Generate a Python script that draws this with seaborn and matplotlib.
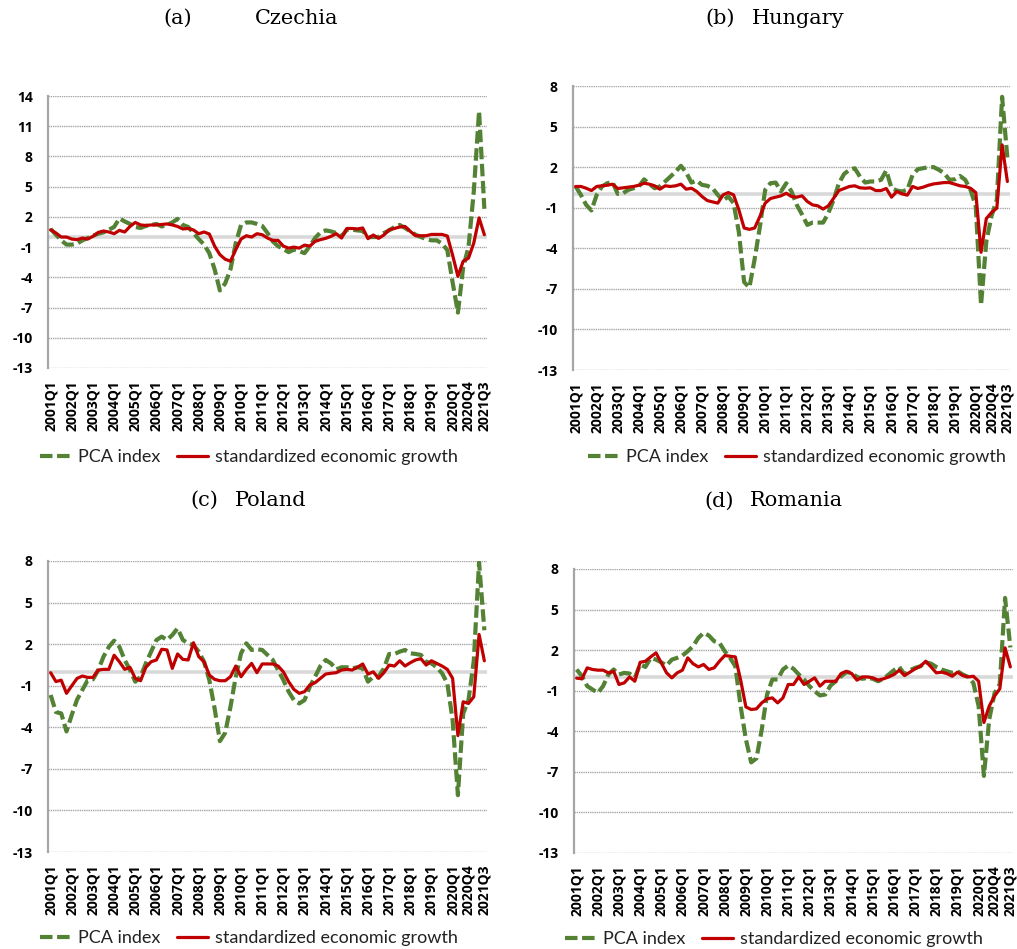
import numpy as np
import pandas as pd
import matplotlib
matplotlib.use("Agg")
import matplotlib.pyplot as plt
import seaborn as sns

# Quarterly categories 2001Q1 .. 2021Q3
quarters = [f"{y}Q{q}" for y in range(2001, 2022) for q in range(1, 5)][:83]
tick_labels = [f"{y}Q1" for y in range(2001, 2021)] + ["2020Q4", "2021Q3"]

cz_pca = [0.8, 0.23, -0.33, -0.75, -0.75, -0.65, -0.33, -0.1, 0.13, 0.33,
          0.46, 0.72, 1.0, 1.85, 1.55, 1.3, 1.0, 0.9, 1.1, 1.2,
          1.3, 1.05, 1.2, 1.45, 1.8, 1.2, 1.0, 0.4, -0.2, -0.75,
          -1.6, -3.2, -5.3, -4.6, -3.2, -0.6, 1.2, 1.45, 1.45, 1.3,
          1.1, 0.4, -0.43, -0.9, -1.2, -1.5, -1.25, -1.4, -1.6, -0.9,
          -0.1, 0.46, 0.66, 0.56, 0.4, 0.07, 0.72, 0.72, 0.66, 0.6,
          0.0, 0.0, 0.0, 0.4, 0.66, 1.0, 1.2, 0.9, 0.56, 0.23,
          0.0, -0.2, -0.33, -0.33, -0.65, -1.3, -4.5, -7.5, -3.0, -1.0,
          4.5, 12.5, 2.8]
cz_gdp = [0.72, 0.4, 0.0, 0.0, -0.2, -0.26, -0.1, -0.2, 0.07, 0.46,
          0.6, 0.5, 0.33, 0.66, 0.5, 1.05, 1.45, 1.2, 1.15, 1.2,
          1.2, 1.25, 1.3, 1.2, 1.05, 0.8, 0.85, 0.7, 0.33, 0.5,
          0.3, -0.9, -1.75, -2.2, -2.4, -1.25, -0.2, 0.13, 0.0, 0.33,
          0.23, -0.1, -0.33, -0.33, -0.9, -1.1, -1.0, -1.1, -0.8, -0.9,
          -0.43, -0.26, -0.13, 0.07, 0.33, -0.1, 0.85, 0.85, 0.8, 0.9,
          -0.16, 0.2, -0.13, 0.2, 0.72, 0.85, 1.0, 1.05, 0.56, 0.13,
          0.13, 0.13, 0.26, 0.26, 0.26, 0.1, -1.8, -3.9, -2.4, -2.1,
          -0.6, 1.9, 0.23]

hu_pca = [0.57, -0.05, -0.79, -1.2, -0.05, 0.57, 0.81, 0.9, 0.02, 0.07,
          0.32, 0.44, 0.57, 1.1, 0.76, 0.44, 0.57, 0.94, 1.3, 1.67,
          2.1, 1.6, 0.86, 1.0, 0.69, 0.62, 0.44, -0.05, -0.47, -0.17,
          -0.66, -2.8, -6.5, -6.9, -4.8, -2.4, 0.32, 0.81, 0.86, 0.2,
          0.81, 0.2, -0.79, -1.5, -2.27, -2.1, -2.1, -2.1, -1.4, -0.42,
          0.81, 1.5, 1.8, 1.92, 1.3, 0.86, 0.94, 0.94, 1.06, 1.75,
          0.44, 0.27, 0.2, 0.32, 1.43, 1.85, 1.92, 2.0, 2.0, 1.8,
          1.55, 1.06, 1.1, 1.35, 1.06, 0.32, -0.9, -8.2, -3.5, -1.6,
          -0.4, 7.2, 2.7]
hu_gdp = [0.57, 0.57, 0.44, 0.27, 0.57, 0.62, 0.66, 0.74, 0.42, 0.47,
          0.52, 0.57, 0.66, 0.81, 0.74, 0.62, 0.37, 0.62, 0.57, 0.62,
          0.74, 0.37, 0.44, 0.2, -0.17, -0.47, -0.57, -0.66, -0.05, 0.12,
          -0.05, -1.16, -2.5, -2.6, -2.5, -1.65, -0.66, -0.32, -0.22, -0.12,
          0.07, -0.17, -0.22, -0.12, -0.54, -0.79, -0.86, -1.1, -0.86, -0.3,
          0.27, 0.42, 0.57, 0.62, 0.47, 0.44, 0.47, 0.27, 0.27, 0.42,
          -0.22, 0.2, 0.02, -0.07, 0.57, 0.42, 0.52, 0.66, 0.76, 0.81,
          0.86, 0.86, 0.74, 0.62, 0.57, 0.44, 0.12, -4.3, -1.8, -1.35,
          -1.03, 3.65, 0.94]

pl_pca = [-1.67, -2.9, -3.0, -4.3, -3.1, -2.0, -1.3, -0.6, -0.54, 0.13,
          1.1, 1.8, 2.25, 1.8, 0.86, 0.13, -0.71, -0.35, 0.61, 1.46,
          2.3, 2.54, 2.3, 2.66, 3.14, 2.3, 2.06, 1.94, 1.46, 0.73,
          -0.59, -2.64, -5.0, -4.4, -2.52, -0.35, 1.34, 2.06, 1.58, 1.63,
          1.58, 1.22, 0.86, 0.13, -0.59, -1.43, -2.04, -2.28, -2.04, -1.07,
          -0.35, 0.42, 0.86, 0.61, 0.18, 0.33, 0.33, 0.25, 0.33, 0.25,
          -0.71, -0.35, -0.35, 0.25, 1.29, 1.29, 1.46, 1.58, 1.34, 1.29,
          1.22, 0.73, 0.61, 0.33, -0.1, -0.83, -3.48, -8.9, -3.0, -2.04,
          0.8, 7.9, 3.0]
pl_gdp = [-0.06, -0.7, -0.6, -1.55, -1.0, -0.47, -0.3, -0.4, -0.4, 0.13,
          0.18, 0.18, 1.2, 0.73, 0.18, 0.33, -0.47, -0.64, 0.33, 0.73,
          0.86, 1.63, 1.58, 0.25, 1.29, 0.9, 0.86, 2.1, 1.1, 0.73,
          -0.23, -0.54, -0.64, -0.64, -0.35, 0.42, -0.35, 0.18, 0.61, -0.06,
          0.57, 0.57, 0.57, 0.42, 0.0, -0.71, -1.27, -1.55, -1.43, -0.95,
          -0.78, -0.47, -0.16, -0.1, -0.06, 0.13, 0.18, 0.13, 0.33, 0.57,
          -0.16, 0.0, -0.47, -0.06, 0.49, 0.42, 0.8, 0.42, 0.66, 0.86,
          0.95, 0.49, 0.8, 0.61, 0.42, 0.18, -0.47, -4.6, -2.16, -2.28,
          -1.8, 2.7, 0.8]

ro_pca = [0.57, 0.07, -0.66, -0.91, -1.16, -0.66, 0.2, 0.57, 0.2, 0.32,
          0.27, -0.05, 0.94, 0.76, 1.43, 1.3, 1.1, 0.86, 1.3, 1.43,
          1.6, 1.92, 2.29, 2.9, 3.28, 3.08, 2.66, 2.54, 1.92, 1.43,
          0.81, -2.14, -4.6, -6.3, -6.0, -3.87, -1.28, -0.17, -0.17, 0.57,
          0.86, 0.62, 0.2, -0.17, -0.66, -1.03, -1.35, -1.28, -0.62, -0.3,
          0.07, 0.37, 0.32, 0.02, -0.12, -0.05, -0.12, -0.3, -0.12, 0.2,
          0.52, 0.76, 0.2, 0.52, 0.69, 0.81, 1.1, 1.0, 0.76, 0.57,
          0.44, 0.32, 0.44, 0.2, 0.02, -0.42, -2.14, -7.3, -3.13, -1.2,
          -0.5, 5.86, 2.2]
ro_gdp = [-0.07, -0.12, 0.69, 0.57, 0.52, 0.52, 0.32, 0.44, -0.54, -0.42,
          0.02, -0.3, 1.1, 1.18, 1.5, 1.8, 1.06, 0.32, -0.05, 0.32,
          0.52, 1.43, 1.0, 0.76, 0.94, 0.57, 0.69, 1.18, 1.6, 1.55,
          1.5, -0.2, -2.2, -2.39, -2.34, -1.9, -1.6, -1.53, -1.9, -1.53,
          -0.54, -0.54, 0.02, -0.54, -0.3, -0.05, -0.66, -0.3, -0.3, -0.3,
          0.27, 0.44, 0.27, -0.22, 0.02, 0.02, -0.05, -0.22, -0.12, 0.02,
          0.2, 0.52, 0.12, 0.37, 0.62, 0.81, 1.18, 0.76, 0.32, 0.37,
          0.27, 0.07, 0.37, 0.12, 0.02, 0.07, -0.3, -3.35, -2.14, -1.4,
          -0.86, 2.17, 0.76]

GREEN = "#548235"
RED = "#c00000"
GRID = "#a6a6a6"
W, H = 1017, 949

sns.set_theme(style="white")
plt.rcParams["font.family"] = ["Lato", "DejaVu Sans"]
plt.rcParams["text.color"] = "black"

fig = plt.figure(figsize=(W / 100, H / 100), dpi=100)


def px_axes(left, right, top, bottom):
    return fig.add_axes([left / W, 1 - bottom / H, (right - left) / W, (bottom - top) / H])


panels = [
    dict(box=(48, 487, 96, 368), pca=cz_pca, gdp=cz_gdp, yticks=list(range(-13, 15, 3)),
         letter="(a)", name="Czechia", lx=163, nx=255, ty=18, legx=249, legy=457),
    dict(box=(573, 1010, 86, 370), pca=hu_pca, gdp=hu_gdp, yticks=list(range(-13, 9, 3)),
         letter="(b)", name="Hungary", lx=705, nx=752, ty=18, legx=797, legy=457),
    dict(box=(48, 487, 561, 852), pca=pl_pca, gdp=pl_gdp, yticks=list(range(-13, 9, 3)),
         letter="(c)", name="Poland", lx=190, nx=235, ty=500, legx=249, legy=938),
    dict(box=(574, 1013, 569, 853), pca=ro_pca, gdp=ro_gdp, yticks=list(range(-13, 9, 3)),
         letter="(d)", name="Romania", lx=704, nx=750, ty=501, legx=774, legy=939),
]

tick_pos = [quarters.index(t) for t in tick_labels]
TICK_FONT = ["Open Sans", "DejaVu Sans"]

for p in panels:
    ax = px_axes(*p["box"])
    df = pd.DataFrame({"t": np.arange(len(quarters)),
                       "PCA index": p["pca"],
                       "standardized economic growth": p["gdp"]})

    # horizontal grid and the category axis at zero
    for yv in p["yticks"]:
        ax.axhline(yv, color=GRID, lw=1.0, ls=(0, (1, 0.6)), zorder=1)
    ax.axhline(0, color="#d9d9d9", lw=2.6, zorder=1.5)

    sns.lineplot(data=df, x="t", y="PCA index", ax=ax, color=GREEN, lw=3.0, zorder=3)
    l_pca = ax.get_lines()[-1]
    l_pca.set_dashes((3.0, 1.1))
    l_pca.set_dash_capstyle("butt")
    sns.lineplot(data=df, x="t", y="standardized economic growth", ax=ax,
                 color=RED, lw=2.3, zorder=4)
    l_gdp = ax.get_lines()[-1]

    ax.set_xlim(-0.5, len(quarters) - 0.5)
    ax.set_ylim(p["yticks"][0], p["yticks"][-1])
    ax.set_yticks(p["yticks"])
    ax.set_yticklabels([str(v) for v in p["yticks"]], fontweight="bold",
                       fontsize=10, family=TICK_FONT)
    ax.set_xticks(tick_pos)
    ax.set_xticklabels(tick_labels, rotation=90, fontweight="bold",
                       fontsize=10, family=TICK_FONT)
    ax.tick_params(axis="both", length=0, colors="black")
    ax.tick_params(axis="y", pad=11)
    ax.tick_params(axis="x", pad=9)
    ax.set_xlabel("")
    ax.set_ylabel("")
    ax.grid(False)
    for s in ("top", "right", "bottom"):
        ax.spines[s].set_visible(False)
    ax.spines["left"].set_color(GRID)
    ax.spines["left"].set_linewidth(1.6)

    leg = fig.legend([l_pca, l_gdp], ["PCA index", "standardized economic growth"],
                     loc="center", bbox_to_anchor=(p["legx"] / W, 1 - p["legy"] / H),
                     ncol=2, frameon=False, fontsize=13, handlelength=1.7,
                     handletextpad=0.4, columnspacing=0.9)
    for t in leg.get_texts():
        t.set_color("#222222")

    fig.text(p["lx"] / W, 1 - p["ty"] / H, p["letter"], family="DejaVu Serif",
             fontsize=15, ha="left", va="center", color="black")
    fig.text(p["nx"] / W, 1 - p["ty"] / H, p["name"], family="DejaVu Serif",
             fontsize=15, ha="left", va="center", color="black")

fig.savefig("out.png", dpi=100, facecolor="white")
